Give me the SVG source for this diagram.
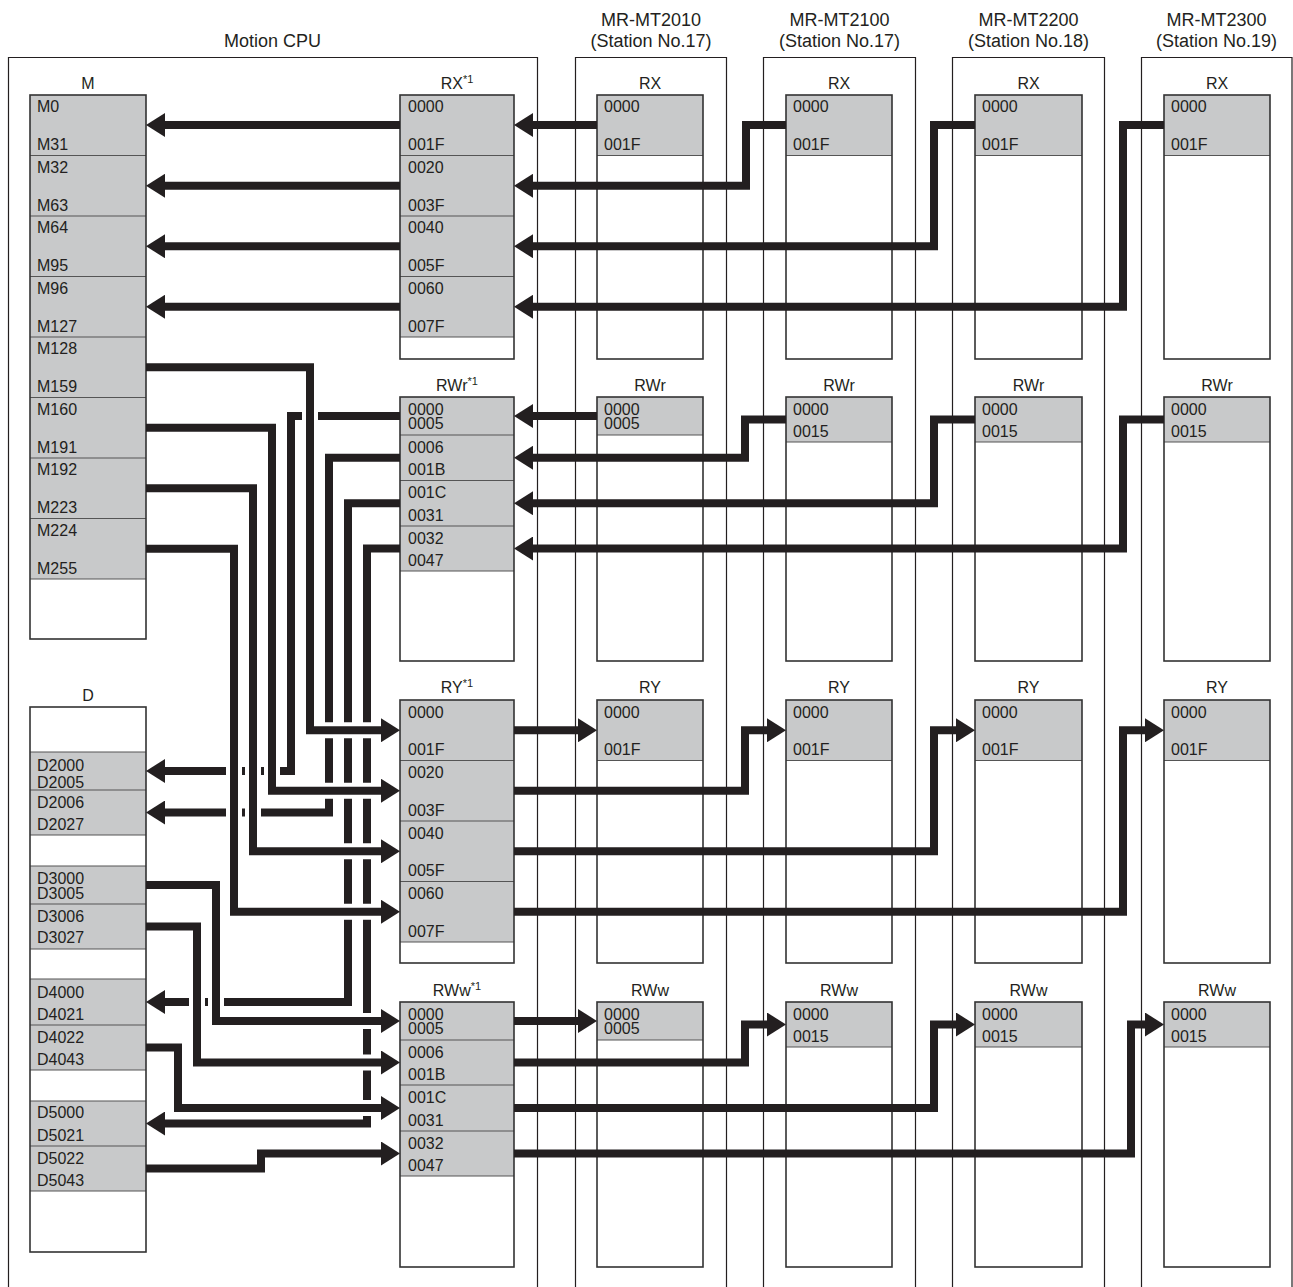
<svg xmlns="http://www.w3.org/2000/svg" width="1293" height="1287" viewBox="0 0 1293 1287">
<style>
.frame{fill:none;stroke:#231f20;stroke-width:1.2}
.box{fill:none;stroke:#333;stroke-width:1.6}
.bg{fill:#fff}
.g{fill:#c8c9ca}
.sep{stroke:#555;stroke-width:1.2}
.t{font-family:"Liberation Sans",Arial,Helvetica,sans-serif;font-size:16px;fill:#231f20}
.hd{font-size:18px;text-anchor:middle}
.lb{text-anchor:middle}
.sup{font-size:11px}
.c{fill:none;stroke:#231f20;stroke-width:8;stroke-linejoin:miter;stroke-linecap:butt}
.halo{fill:none;stroke:#fff;stroke-width:16;stroke-linejoin:miter;stroke-linecap:butt}
.a{marker-end:url(#arr)}
</style>
<defs>
<marker id="arr" viewBox="0 0 19 24" refX="2" refY="12" markerWidth="19" markerHeight="24" markerUnits="userSpaceOnUse" orient="auto"><path d="M0,0 L19,12 L0,24 Z" fill="#231f20"/></marker>
</defs>
<rect width="1293" height="1287" fill="#fff"/>

<g id="motion-cpu">
<path class="frame" d="M8.5,1287 V57.5 H537.5 V1287"/>
<text class="t hd" x="272.5" y="47">Motion CPU</text>
</g>
<g id="station-mt2010">
<path class="frame" d="M575.5,1287 V57.5 H726.5 V1287"/>
<text class="t hd" x="651" y="26">MR-MT2010</text>
<text class="t hd" x="651" y="47">(Station No.17)</text>
</g>
<g id="station-mt2100">
<path class="frame" d="M763.5,1287 V57.5 H915.5 V1287"/>
<text class="t hd" x="839.5" y="26">MR-MT2100</text>
<text class="t hd" x="839.5" y="47">(Station No.17)</text>
</g>
<g id="station-mt2200">
<path class="frame" d="M952.5,1287 V57.5 H1104.5 V1287"/>
<text class="t hd" x="1028.5" y="26">MR-MT2200</text>
<text class="t hd" x="1028.5" y="47">(Station No.18)</text>
</g>
<g id="station-mt2300">
<path class="frame" d="M1141.5,1287 V57.5 H1292 V1287"/>
<text class="t hd" x="1216.5" y="26">MR-MT2300</text>
<text class="t hd" x="1216.5" y="47">(Station No.19)</text>
</g>

<!-- M device box -->
<g id="dev-M">
<text class="t lb" x="88" y="89">M</text>
<rect class="bg" x="30" y="95" width="116" height="544"/>
<rect class="g" x="30" y="95" width="116" height="484"/>
<path class="sep" d="M30,155.5H146M30,216H146M30,276.5H146M30,337H146M30,397.5H146M30,458H146M30,518.5H146M30,579H146"/>
<rect class="box" x="30" y="95" width="116" height="544"/>
<text class="t" x="37" y="112">M0</text><text class="t" x="37" y="150">M31</text>
<text class="t" x="37" y="172.5">M32</text><text class="t" x="37" y="210.5">M63</text>
<text class="t" x="37" y="233">M64</text><text class="t" x="37" y="271">M95</text>
<text class="t" x="37" y="293.5">M96</text><text class="t" x="37" y="331.5">M127</text>
<text class="t" x="37" y="354">M128</text><text class="t" x="37" y="392">M159</text>
<text class="t" x="37" y="414.5">M160</text><text class="t" x="37" y="452.5">M191</text>
<text class="t" x="37" y="475">M192</text><text class="t" x="37" y="513">M223</text>
<text class="t" x="37" y="535.5">M224</text><text class="t" x="37" y="573.5">M255</text>
</g>

<!-- D device box -->
<g id="dev-D">
<text class="t lb" x="88" y="701">D</text>
<rect class="bg" x="30" y="707" width="116" height="545"/>
<rect class="g" x="30" y="752" width="116" height="83"/>
<rect class="g" x="30" y="866" width="116" height="83"/>
<rect class="g" x="30" y="979" width="116" height="91"/>
<rect class="g" x="30" y="1101" width="116" height="90"/>
<path class="sep" d="M30,752H146M30,790H146M30,835H146M30,866H146M30,904H146M30,949H146M30,979H146M30,1025H146M30,1070H146M30,1101H146M30,1146H146M30,1191H146"/>
<rect class="box" x="30" y="707" width="116" height="545"/>
<text class="t" x="37" y="770.5">D2000</text><text class="t" x="37" y="787.5">D2005</text>
<text class="t" x="37" y="808">D2006</text><text class="t" x="37" y="830">D2027</text>
<text class="t" x="37" y="884">D3000</text><text class="t" x="37" y="899">D3005</text>
<text class="t" x="37" y="921.5">D3006</text><text class="t" x="37" y="943">D3027</text>
<text class="t" x="37" y="997.5">D4000</text><text class="t" x="37" y="1020">D4021</text>
<text class="t" x="37" y="1043">D4022</text><text class="t" x="37" y="1065">D4043</text>
<text class="t" x="37" y="1118">D5000</text><text class="t" x="37" y="1140.5">D5021</text>
<text class="t" x="37" y="1164">D5022</text><text class="t" x="37" y="1186">D5043</text>
</g>

<!-- CPU RX -->
<g id="cpu-RX">
<text class="t lb" x="457" y="89">RX<tspan class="sup" dy="-6">*1</tspan></text>
<rect class="bg" x="400" y="95" width="114" height="264"/>
<rect class="g" x="400" y="95" width="114" height="242"/>
<path class="sep" d="M400,155.5H514M400,216H514M400,276.5H514M400,337H514"/>
<rect class="box" x="400" y="95" width="114" height="264"/>
<text class="t" x="408" y="112">0000</text><text class="t" x="408" y="150">001F</text>
<text class="t" x="408" y="172.5">0020</text><text class="t" x="408" y="210.5">003F</text>
<text class="t" x="408" y="233">0040</text><text class="t" x="408" y="271">005F</text>
<text class="t" x="408" y="293.5">0060</text><text class="t" x="408" y="331.5">007F</text>
</g>

<!-- CPU RWr -->
<g id="cpu-RWr">
<text class="t lb" x="457" y="391">RWr<tspan class="sup" dy="-6">*1</tspan></text>
<rect class="bg" x="400" y="397" width="114" height="264"/>
<rect class="g" x="400" y="397" width="114" height="174"/>
<path class="sep" d="M400,435H514M400,480.5H514M400,526H514M400,571H514"/>
<rect class="box" x="400" y="397" width="114" height="264"/>
<text class="t" x="408" y="415">0000</text><text class="t" x="408" y="429">0005</text>
<text class="t" x="408" y="452.5">0006</text><text class="t" x="408" y="475">001B</text>
<text class="t" x="408" y="498">001C</text><text class="t" x="408" y="520.5">0031</text>
<text class="t" x="408" y="543.5">0032</text><text class="t" x="408" y="565.5">0047</text>
</g>

<!-- CPU RY -->
<g id="cpu-RY">
<text class="t lb" x="457" y="693">RY<tspan class="sup" dy="-6">*1</tspan></text>
<rect class="bg" x="400" y="700" width="114" height="263"/>
<rect class="g" x="400" y="700" width="114" height="242"/>
<path class="sep" d="M400,760.5H514M400,821H514M400,881.5H514M400,942H514"/>
<rect class="box" x="400" y="700" width="114" height="263"/>
<text class="t" x="408" y="717.5">0000</text><text class="t" x="408" y="755">001F</text>
<text class="t" x="408" y="778">0020</text><text class="t" x="408" y="815.5">003F</text>
<text class="t" x="408" y="838.5">0040</text><text class="t" x="408" y="876">005F</text>
<text class="t" x="408" y="899">0060</text><text class="t" x="408" y="936.5">007F</text>
</g>

<!-- CPU RWw -->
<g id="cpu-RWw">
<text class="t lb" x="457" y="996">RWw<tspan class="sup" dy="-6">*1</tspan></text>
<rect class="bg" x="400" y="1002" width="114" height="265"/>
<rect class="g" x="400" y="1002" width="114" height="174"/>
<path class="sep" d="M400,1040H514M400,1085H514M400,1131H514M400,1176H514"/>
<rect class="box" x="400" y="1002" width="114" height="265"/>
<text class="t" x="408" y="1020">0000</text><text class="t" x="408" y="1034">0005</text>
<text class="t" x="408" y="1057.5">0006</text><text class="t" x="408" y="1079.5">001B</text>
<text class="t" x="408" y="1102.5">001C</text><text class="t" x="408" y="1125.5">0031</text>
<text class="t" x="408" y="1148.5">0032</text><text class="t" x="408" y="1170.5">0047</text>
</g>

<!-- Station 1 (MR-MT2010) registers -->
<g id="s1-RX">
<text class="t lb" x="650" y="89">RX</text>
<rect class="bg" x="597" y="95" width="106" height="264"/>
<rect class="g" x="597" y="95" width="106" height="60.5"/>
<path class="sep" d="M597,155.5H703"/>
<rect class="box" x="597" y="95" width="106" height="264"/>
<text class="t" x="604" y="112">0000</text><text class="t" x="604" y="150">001F</text>
</g>
<g id="s1-RWr">
<text class="t lb" x="650" y="391">RWr</text>
<rect class="bg" x="597" y="397" width="106" height="264"/>
<rect class="g" x="597" y="397" width="106" height="38"/>
<path class="sep" d="M597,435H703"/>
<rect class="box" x="597" y="397" width="106" height="264"/>
<text class="t" x="604" y="415">0000</text><text class="t" x="604" y="429">0005</text>
</g>
<g id="s1-RY">
<text class="t lb" x="650" y="693">RY</text>
<rect class="bg" x="597" y="700" width="106" height="263"/>
<rect class="g" x="597" y="700" width="106" height="60.5"/>
<path class="sep" d="M597,760.5H703"/>
<rect class="box" x="597" y="700" width="106" height="263"/>
<text class="t" x="604" y="717.5">0000</text><text class="t" x="604" y="755">001F</text>
</g>
<g id="s1-RWw">
<text class="t lb" x="650" y="996">RWw</text>
<rect class="bg" x="597" y="1002" width="106" height="265"/>
<rect class="g" x="597" y="1002" width="106" height="38"/>
<path class="sep" d="M597,1040H703"/>
<rect class="box" x="597" y="1002" width="106" height="265"/>
<text class="t" x="604" y="1020">0000</text><text class="t" x="604" y="1034">0005</text>
</g>

<!-- Station 2 (MR-MT2100) registers -->
<g id="s2-RX">
<text class="t lb" x="839" y="89">RX</text>
<rect class="bg" x="786" y="95" width="106" height="264"/>
<rect class="g" x="786" y="95" width="106" height="60.5"/>
<path class="sep" d="M786,155.5H892"/>
<rect class="box" x="786" y="95" width="106" height="264"/>
<text class="t" x="793" y="112">0000</text><text class="t" x="793" y="150">001F</text>
</g>
<g id="s2-RWr">
<text class="t lb" x="839" y="391">RWr</text>
<rect class="bg" x="786" y="397" width="106" height="264"/>
<rect class="g" x="786" y="397" width="106" height="45"/>
<path class="sep" d="M786,442H892"/>
<rect class="box" x="786" y="397" width="106" height="264"/>
<text class="t" x="793" y="414.5">0000</text><text class="t" x="793" y="436.5">0015</text>
</g>
<g id="s2-RY">
<text class="t lb" x="839" y="693">RY</text>
<rect class="bg" x="786" y="700" width="106" height="263"/>
<rect class="g" x="786" y="700" width="106" height="60.5"/>
<path class="sep" d="M786,760.5H892"/>
<rect class="box" x="786" y="700" width="106" height="263"/>
<text class="t" x="793" y="717.5">0000</text><text class="t" x="793" y="755">001F</text>
</g>
<g id="s2-RWw">
<text class="t lb" x="839" y="996">RWw</text>
<rect class="bg" x="786" y="1002" width="106" height="265"/>
<rect class="g" x="786" y="1002" width="106" height="45"/>
<path class="sep" d="M786,1047H892"/>
<rect class="box" x="786" y="1002" width="106" height="265"/>
<text class="t" x="793" y="1019.5">0000</text><text class="t" x="793" y="1041.5">0015</text>
</g>

<!-- Station 3 (MR-MT2200) registers -->
<g id="s3-RX">
<text class="t lb" x="1028.5" y="89">RX</text>
<rect class="bg" x="975" y="95" width="107" height="264"/>
<rect class="g" x="975" y="95" width="107" height="60.5"/>
<path class="sep" d="M975,155.5H1082"/>
<rect class="box" x="975" y="95" width="107" height="264"/>
<text class="t" x="982" y="112">0000</text><text class="t" x="982" y="150">001F</text>
</g>
<g id="s3-RWr">
<text class="t lb" x="1028.5" y="391">RWr</text>
<rect class="bg" x="975" y="397" width="107" height="264"/>
<rect class="g" x="975" y="397" width="107" height="45"/>
<path class="sep" d="M975,442H1082"/>
<rect class="box" x="975" y="397" width="107" height="264"/>
<text class="t" x="982" y="414.5">0000</text><text class="t" x="982" y="436.5">0015</text>
</g>
<g id="s3-RY">
<text class="t lb" x="1028.5" y="693">RY</text>
<rect class="bg" x="975" y="700" width="107" height="263"/>
<rect class="g" x="975" y="700" width="107" height="60.5"/>
<path class="sep" d="M975,760.5H1082"/>
<rect class="box" x="975" y="700" width="107" height="263"/>
<text class="t" x="982" y="717.5">0000</text><text class="t" x="982" y="755">001F</text>
</g>
<g id="s3-RWw">
<text class="t lb" x="1028.5" y="996">RWw</text>
<rect class="bg" x="975" y="1002" width="107" height="265"/>
<rect class="g" x="975" y="1002" width="107" height="45"/>
<path class="sep" d="M975,1047H1082"/>
<rect class="box" x="975" y="1002" width="107" height="265"/>
<text class="t" x="982" y="1019.5">0000</text><text class="t" x="982" y="1041.5">0015</text>
</g>

<!-- Station 4 (MR-MT2300) registers -->
<g id="s4-RX">
<text class="t lb" x="1217" y="89">RX</text>
<rect class="bg" x="1164" y="95" width="106" height="264"/>
<rect class="g" x="1164" y="95" width="106" height="60.5"/>
<path class="sep" d="M1164,155.5H1270"/>
<rect class="box" x="1164" y="95" width="106" height="264"/>
<text class="t" x="1171" y="112">0000</text><text class="t" x="1171" y="150">001F</text>
</g>
<g id="s4-RWr">
<text class="t lb" x="1217" y="391">RWr</text>
<rect class="bg" x="1164" y="397" width="106" height="264"/>
<rect class="g" x="1164" y="397" width="106" height="45"/>
<path class="sep" d="M1164,442H1270"/>
<rect class="box" x="1164" y="397" width="106" height="264"/>
<text class="t" x="1171" y="414.5">0000</text><text class="t" x="1171" y="436.5">0015</text>
</g>
<g id="s4-RY">
<text class="t lb" x="1217" y="693">RY</text>
<rect class="bg" x="1164" y="700" width="106" height="263"/>
<rect class="g" x="1164" y="700" width="106" height="60.5"/>
<path class="sep" d="M1164,760.5H1270"/>
<rect class="box" x="1164" y="700" width="106" height="263"/>
<text class="t" x="1171" y="717.5">0000</text><text class="t" x="1171" y="755">001F</text>
</g>
<g id="s4-RWw">
<text class="t lb" x="1217" y="996">RWw</text>
<rect class="bg" x="1164" y="1002" width="106" height="265"/>
<rect class="g" x="1164" y="1002" width="106" height="45"/>
<path class="sep" d="M1164,1047H1270"/>
<rect class="box" x="1164" y="1002" width="106" height="265"/>
<text class="t" x="1171" y="1019.5">0000</text><text class="t" x="1171" y="1041.5">0015</text>
</g>

<g id="connectors">
<!-- RX: stations to CPU -->
<path class="c a" d="M597,125 H531"/>
<path class="c a" d="M786,125 H746 V185.75 H531"/>
<path class="c a" d="M975,125 H934 V246.25 H531"/>
<path class="c a" d="M1164,125 H1123 V306.75 H531"/>
<!-- RX CPU to M -->
<path class="c a" d="M400,125 H163"/>
<path class="c a" d="M400,185.75 H163"/>
<path class="c a" d="M400,246.25 H163"/>
<path class="c a" d="M400,306.75 H163"/>
<!-- RWr: stations to CPU -->
<path class="c a" d="M597,416 H531"/>
<path class="c a" d="M786,419.5 H745 V457.75 H531"/>
<path class="c a" d="M975,419.5 H934 V503.25 H531"/>
<path class="c a" d="M1164,419.5 H1123 V548.5 H531"/>
<!-- RY: CPU to stations -->
<path class="c a" d="M514,730.25 H580"/>
<path class="c a" d="M514,790.75 H745 V730.25 H769"/>
<path class="c a" d="M514,851.25 H934 V730.25 H958"/>
<path class="c a" d="M514,911.75 H1123 V730.25 H1147"/>
<!-- RWw: CPU to stations -->
<path class="c a" d="M514,1021 H580"/>
<path class="c a" d="M514,1062.5 H745 V1024.5 H769"/>
<path class="c a" d="M514,1108 H934 V1024.5 H958"/>
<path class="c a" d="M514,1153.5 H1131 V1024.5 H1147"/>
<!-- RWr CPU to D (lower layer) -->
<path class="c a" d="M400,416 H291 V771 H163"/>
<path class="c a" d="M400,457.75 H329 V812.5 H163"/>
<path class="c a" d="M400,503.25 H348 V1002 H163"/>
<path class="c a" d="M400,548.5 H367 V1123.5 H163"/>
<!-- M to RY (upper layer with halo) -->
<path class="halo" d="M147.5,367.25 H310 V730.25 H383"/>
<path class="c a" d="M146,367.25 H310 V730.25 H383"/>
<path class="halo" d="M147.5,427.75 H272 V790.75 H383"/>
<path class="c a" d="M146,427.75 H272 V790.75 H383"/>
<path class="halo" d="M147.5,488.25 H253 V851.25 H383"/>
<path class="c a" d="M146,488.25 H253 V851.25 H383"/>
<path class="halo" d="M147.5,548.75 H234 V911.75 H383"/>
<path class="c a" d="M146,548.75 H234 V911.75 H383"/>
<!-- D to RWw (upper layer with halo) -->
<path class="halo" d="M147.5,885 H216 V1021 H383"/>
<path class="c a" d="M146,885 H216 V1021 H383"/>
<path class="halo" d="M147.5,926.5 H197 V1062.5 H383"/>
<path class="c a" d="M146,926.5 H197 V1062.5 H383"/>
<path class="halo" d="M147.5,1047.5 H178 V1108 H383"/>
<path class="c a" d="M146,1047.5 H178 V1108 H383"/>
<path class="halo" d="M147.5,1168.5 H261 V1153.5 H383"/>
<path class="c a" d="M146,1168.5 H261 V1153.5 H383"/>
</g>
</svg>
